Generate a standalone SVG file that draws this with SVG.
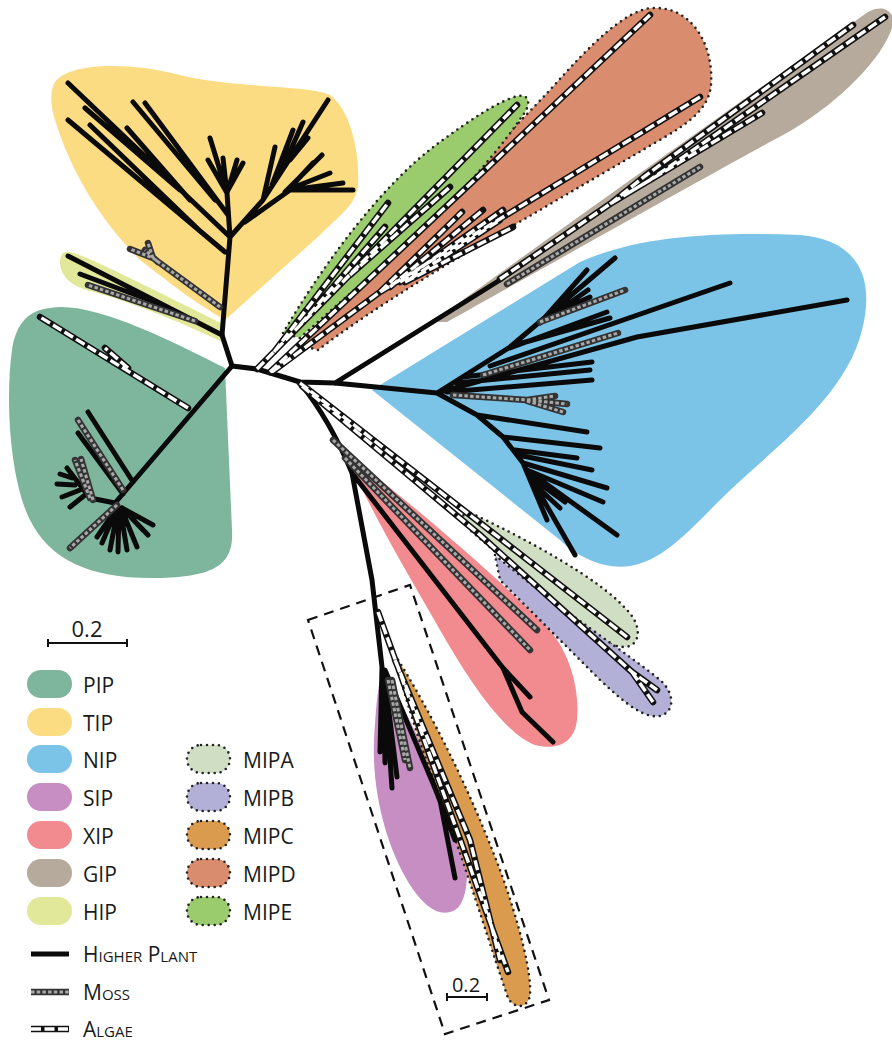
<svg xmlns="http://www.w3.org/2000/svg" xmlns:xlink="http://www.w3.org/1999/xlink" width="892" height="1041" viewBox="0 0 892 1041">
<style>
.hp{fill:none;stroke:#0a0a0a;stroke-width:5;stroke-linecap:round;stroke-linejoin:round}
.mo{fill:none;stroke:#333;stroke-width:6.5;stroke-linecap:round;stroke-linejoin:round}
.mi{fill:none;stroke:#a8a8a8;stroke-width:3;stroke-dasharray:3.5 2.2;stroke-linecap:butt}
.ao{fill:none;stroke:#111;stroke-width:6.5;stroke-linecap:round;stroke-linejoin:round}
.ai{fill:none;stroke:#fff;stroke-width:3.4;stroke-dasharray:10 3.5;stroke-linecap:butt}
.dot{stroke:#222;stroke-width:2.6;stroke-dasharray:0 6;stroke-linecap:round}
.lbl{font-family:"Open Sans","Noto Sans","DejaVu Sans",sans-serif;font-size:21px;fill:#1a1a1a}
.sc{font-size:15px}
.pip{fill:#7eb69d}.tip{fill:#fcdc83}.nip{fill:#7cc4e7}.sip{fill:#c68ec2}.xip{fill:#f28b90}.gip{fill:#b5aa9b}.hip{fill:#e2e89a}
.mipa{fill:#d0dec3}.mipb{fill:#b3b0d7}.mipc{fill:#db9b4f}.mipd{fill:#da8c6f}.mipe{fill:#9acb6d}
</style>
<defs>
<path id="mossP" d="M220,307 L153,258 L130,249 M153,258 L148,243 M158,262 L145,250 M195,321 L88,285 M123,490 L78,420 M90,498 L75,460 M93,500 L81,459 M117,505 L70,548 M540,322 L625,290 M483,375 L618,333 M453,395 L527,400 L555,396 M527,400 L567,404 M527,401 L563,412 M507,284 L700,167 M333,440 L537,630 M345,458 L530,650 M392,680 L410,768 M388,680 L405,760"/>
<path id="algP" d="M188,408 L40,317 M128,368 L105,348 M257,369 L517,105 M274,352 L388,203 M300,325 L385,227 M350,275 L450,187 M270,372 L650,15 M272,372 L380,292 L700,97 M380,292 L462,212 M390,287 L483,210 M400,282 L503,210 M405,282 L513,227 M410,279 L500,220 M500,279 L610,204 L650,180 L885,17 M610,204 L645,176 L853,25 M630,192 L762,113 M300,383 L627,637 M302,386 L480,535 L632,672 L657,690 M632,672 L653,702 M378,612 L508,972 M395,660 L470,840 L500,960"/>
</defs>

<g id="clades">
<g id="PIP"><path class="pip" d="M50,308 C90,300 170,340 225,368 L232,530 C234,565 215,578 150,578 C90,578 50,560 30,520 C10,480 5,400 12,350 C16,322 30,310 50,308 Z"/></g>
<g id="TIP"><path class="tip" d="M55,82 C70,62 130,62 180,75 C230,88 310,85 330,95 C350,110 360,150 358,185 C356,205 340,215 320,235 L225,320 C190,300 160,275 140,260 C100,220 70,170 55,120 C50,105 50,90 55,82 Z"/></g>
<g id="HIP"><path class="hip" d="M65,252 C75,250 110,268 225,325 L222,342 C160,312 110,296 90,291 C70,286 60,275 60,262 C60,256 62,253 65,252 Z"/></g>
<g id="NIP"><path class="nip" d="M372,390 L580,262 C640,235 720,232 800,235 C860,240 875,280 862,330 C845,400 770,450 720,500 C680,540 650,575 605,565 C585,560 570,550 560,540 Z"/></g>
<g id="GIP"><path class="gip" d="M433,322 C520,258 700,130 868,12 C884,3 897,12 892,28 C882,58 842,100 792,130 C700,180 540,270 447,322 Z"/></g>
<g id="XIP"><path class="xip" d="M345,452 C420,510 500,580 545,625 C570,650 580,690 577,720 C574,745 555,750 535,745 C510,735 480,700 440,630 C400,560 370,510 345,452 Z"/></g>
<g id="SIP"><path class="sip" d="M384,668 C395,690 430,760 460,830 C470,860 470,900 455,910 C440,918 425,908 410,885 C385,845 372,790 374,740 C376,705 378,680 384,668 Z"/></g>
<g id="MIPA"><path class="mipa dot" d="M460,508 C530,540 600,580 625,608 C640,622 642,640 630,646 C615,650 600,640 580,625 L470,530 Z"/></g>
<g id="MIPB"><path class="mipb dot" d="M495,555 C560,610 630,655 660,680 C675,693 675,712 660,716 C645,718 630,708 600,680 L500,580 Z"/></g>
<g id="MIPC"><path class="mipc dot" d="M395,655 C430,710 470,790 500,870 C520,925 532,975 530,995 C528,1008 515,1010 508,998 C495,960 470,880 445,810 C420,745 405,700 395,655 Z"/></g>
<g id="MIPD"><path class="mipd dot" d="M300,345 C370,270 470,175 550,90 C590,45 625,10 652,8 C692,6 714,45 711,85 C709,108 690,122 665,137 C600,175 540,210 480,245 C420,280 360,318 318,350 Z"/></g>
<g id="MIPE"><path class="mipe dot" d="M283,333 C320,270 380,185 440,142 C470,120 500,100 518,96 C530,94 530,104 525,112 C500,150 460,195 420,232 C380,268 340,302 300,338 Z"/></g>
</g>

<g id="connectors">
<path class="hp" d="M232,366 L222,335 L230,237 L227,193 M225,252 L68,120 M230,237 L68,83 M180,190 L85,108 M200,231 L90,125 M190,200 L127,128 M215,200 L133,102 M228,215 L145,103 M227,193 L210,138 M227,193 L208,160 M226,185 L223,158 M227,193 L237,160 M228,190 L243,163 M230,237 L263,200 L328,100 M282,170 L303,122 M272,185 L293,130 M263,200 L275,147 M290,160 L308,138 M245,222 L290,190 L353,190 M290,190 L343,183 M285,192 L322,155 M292,188 L330,173 M288,190 L313,163"/>
<path class="hp" d="M222,335 L68,256 M165,306 L80,274"/>
<path class="hp" d="M232,366 L115,503 M133,482 L88,412 M123,494 L78,433 M115,503 L90,498 L67,468 M75,485 L57,484 M80,490 L62,497 M85,495 L70,507 M72,478 L60,474 M117,508 L97,537 M117,508 L102,543 M118,508 L110,550 M119,508 L118,552 M120,508 L127,550 M121,508 L137,547 M122,508 L143,530 M122,508 L153,525 M122,508 L148,535"/>
<path class="hp" d="M232,366 L257,369 L300,382 L335,383 L437,393 M335,383 L500,280 M437,393 L510,347 L615,258 M540,323 L587,270 M548,318 L588,290 M555,313 L590,297 M510,348 L607,312 M515,345 L610,318 M490,366 L730,283 M437,393 L637,337 L847,300 M463,377 L592,362 M457,383 L590,370 M447,392 L592,380 M437,393 L477,415 L503,437 L523,463 L547,520 M477,415 L587,432 M503,437 L600,448 M515,450 L577,458 M518,455 L592,470 M523,463 L607,488 M527,470 L603,502 M527,470 L617,535 M532,480 L575,555 M535,485 L560,508 M532,478 L565,502"/>
<path class="hp" d="M300,383 Q330,420 352,473 L372,580 L382,667 M352,473 L503,668 L530,697 M503,668 L522,712 L553,742 M382,667 L380,752 M383,670 L385,763 M384,672 L392,788 M384,672 L397,777 M385,670 L440,800 L455,878 M430,775 L455,840"/>
<use xlink:href="#mossP" class="mo"/>
<use xlink:href="#mossP" class="mi"/>
<use xlink:href="#algP" class="ao"/>
<use xlink:href="#algP" class="ai"/>
</g>

<g id="inset">
<polygon points="308,620 410,585 549,1000 445,1034" fill="none" stroke="#111" stroke-width="2.2" stroke-dasharray="10 7"/>
<text class="lbl" x="466" y="992" text-anchor="middle" style="font-size:20px">0.2</text>
<path d="M447,997 H487 M447,993 V1001 M487,993 V1001" stroke="#111" stroke-width="2" fill="none"/>
</g>

<g id="legend">
<g id="scale"><text class="lbl" x="87" y="637" text-anchor="middle" style="font-size:22px">0.2</text>
<path d="M48,643 H127 M48,639 V647 M127,639 V647" stroke="#111" stroke-width="2" fill="none"/></g>
<g id="lg-PIP"><rect class="pip" x="27" y="670" width="45" height="28" rx="14"/><text class="lbl" x="83" y="693">PIP</text></g>
<g id="lg-TIP"><rect class="tip" x="27" y="708" width="45" height="28" rx="14"/><text class="lbl" x="83" y="731">TIP</text></g>
<g id="lg-NIP"><rect class="nip" x="27" y="745" width="45" height="28" rx="14"/><text class="lbl" x="83" y="768">NIP</text></g>
<g id="lg-SIP"><rect class="sip" x="27" y="783" width="45" height="28" rx="14"/><text class="lbl" x="83" y="806">SIP</text></g>
<g id="lg-XIP"><rect class="xip" x="27" y="821" width="45" height="28" rx="14"/><text class="lbl" x="83" y="844">XIP</text></g>
<g id="lg-GIP"><rect class="gip" x="27" y="859" width="45" height="28" rx="14"/><text class="lbl" x="83" y="882">GIP</text></g>
<g id="lg-HIP"><rect class="hip" x="27" y="897" width="45" height="28" rx="14"/><text class="lbl" x="83" y="920">HIP</text></g>
<g id="lg-MIPA"><rect class="mipa dot" x="187" y="745" width="43" height="28" rx="14"/><text class="lbl" x="243" y="768">MIPA</text></g>
<g id="lg-MIPB"><rect class="mipb dot" x="187" y="783" width="43" height="28" rx="14"/><text class="lbl" x="243" y="806">MIPB</text></g>
<g id="lg-MIPC"><rect class="mipc dot" x="187" y="821" width="43" height="28" rx="14"/><text class="lbl" x="243" y="844">MIPC</text></g>
<g id="lg-MIPD"><rect class="mipd dot" x="187" y="859" width="43" height="28" rx="14"/><text class="lbl" x="243" y="882">MIPD</text></g>
<g id="lg-MIPE"><rect class="mipe dot" x="187" y="897" width="43" height="28" rx="14"/><text class="lbl" x="243" y="920">MIPE</text></g>
<g id="lg-hp"><path class="hp" d="M31,954 H69" style="stroke-linecap:butt"/><text class="lbl" x="83" y="962">H<tspan class="sc">IGHER</tspan> P<tspan class="sc">LANT</tspan></text></g>
<g id="lg-moss"><path class="mo" d="M31,992 H69" style="stroke-linecap:butt"/><path class="mi" d="M31,992 H69"/><text class="lbl" x="83" y="1000">M<tspan class="sc">OSS</tspan></text></g>
<g id="lg-algae"><path class="ao" d="M31,1029 H69" style="stroke-linecap:butt"/><path class="ai" d="M31,1029 H69"/><text class="lbl" x="83" y="1037">A<tspan class="sc">LGAE</tspan></text></g>
</g>
</svg>
